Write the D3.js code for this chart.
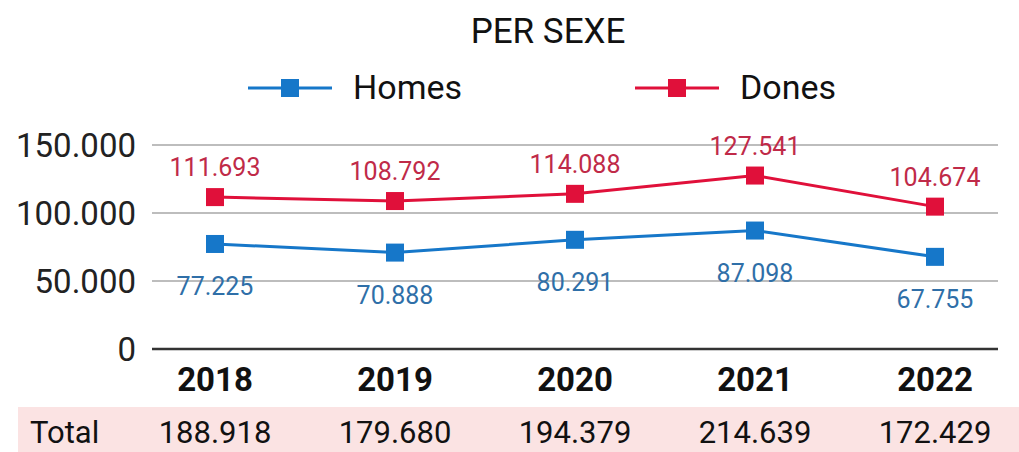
<!DOCTYPE html>
<html>
<head>
<meta charset="utf-8">
<script src="https://cdn.jsdelivr.net/npm/d3@7"></script>
<style>
  body { margin: 0; background: #fff; }
  text { font-family: Roboto, "Noto Sans", sans-serif; }
</style>
</head>
<body>
<div id="chart"></div>
<script>
// data
var years = ["2018", "2019", "2020", "2021", "2022"];
var homes = [77225, 70888, 80291, 87098, 67755];
var dones = [111693, 108792, 114088, 127541, 104674];
var totals = [188918, 179680, 194379, 214639, 172429];
var yTicks = [0, 50000, 100000, 150000];

var w = 1019, h = 452;
var plotLeft = 152, plotRight = 998, plotTop = 145, plotBottom = 349;

var fmt = function(v) {
  return d3.format(",")(v).replace(/,/g, ".");
};

var svg = d3.select("#chart").append("svg")
  .attr("width", w).attr("height", h);

var x = d3.scalePoint().domain(years).range([plotLeft, plotRight]).padding(0.35);
var y = d3.scaleLinear().domain([0, 150000]).range([plotBottom, plotTop]);

// title
svg.append("text")
  .attr("x", 548).attr("y", 43)
  .attr("text-anchor", "middle")
  .attr("font-size", 35).attr("fill", "#111")
  .text("PER SEXE");

var series = [
  { name: "Homes", values: homes, color: "#1677c9", label: "#2f6fa8", lx: 248, up: false },
  { name: "Dones", values: dones, color: "#e0103a", label: "#c02a48", lx: 635, up: true }
];

// legend
var legend = svg.append("g");
series.forEach(function(s) {
  var g = legend.append("g").attr("transform", "translate(" + s.lx + ",88)");
  g.append("line").attr("x1", 0).attr("x2", 84)
    .attr("stroke", s.color).attr("stroke-width", 3);
  g.append("rect").attr("x", 33).attr("y", -9).attr("width", 18).attr("height", 18)
    .attr("fill", s.color);
  g.append("text").attr("x", 105).attr("y", 11)
    .attr("font-size", 34).attr("fill", "#111").text(s.name);
});

// grid
svg.append("g").selectAll("line")
  .data(yTicks.filter(function(d) { return d > 0; }))
  .enter().append("line")
  .attr("x1", plotLeft).attr("x2", plotRight)
  .attr("y1", function(d) { return y(d); })
  .attr("y2", function(d) { return y(d); })
  .attr("stroke", "#bdbdbd").attr("stroke-width", 2);

svg.append("line")
  .attr("x1", plotLeft).attr("x2", plotRight)
  .attr("y1", y(0)).attr("y2", y(0))
  .attr("stroke", "#333").attr("stroke-width", 2.5);

// y axis labels
svg.append("g").selectAll("text")
  .data(yTicks).enter().append("text")
  .attr("x", 136).attr("y", function(d) { return y(d) + 12; })
  .attr("text-anchor", "end")
  .attr("font-size", 33).attr("fill", "#222")
  .text(function(d) { return fmt(d); });

// x axis labels
svg.append("g").selectAll("text")
  .data(years).enter().append("text")
  .attr("x", function(d) { return x(d); })
  .attr("y", 391)
  .attr("text-anchor", "middle")
  .attr("font-size", 33).attr("font-weight", "bold").attr("fill", "#111")
  .text(function(d) { return d; });

// lines
var line = d3.line()
  .x(function(d, i) { return x(years[i]); })
  .y(function(d) { return y(d); });

series.forEach(function(s) {
  var g = svg.append("g");
  g.append("path").datum(s.values)
    .attr("d", line).attr("fill", "none")
    .attr("stroke", s.color).attr("stroke-width", 3);
  g.selectAll("rect").data(s.values).enter().append("rect")
    .attr("x", function(d, i) { return x(years[i]) - 9; })
    .attr("y", function(d) { return y(d) - 9; })
    .attr("width", 18).attr("height", 18)
    .attr("fill", s.color);
  g.selectAll("text").data(s.values).enter().append("text")
    .attr("x", function(d, i) { return x(years[i]); })
    .attr("y", function(d) { return s.up ? y(d) - 21 : y(d) + 51; })
    .attr("text-anchor", "middle")
    .attr("font-size", 25).attr("fill", s.label)
    .text(function(d) { return fmt(d); });
});

// total row
svg.append("rect")
  .attr("x", 18).attr("y", 407).attr("width", w - 18).attr("height", 45)
  .attr("fill", "#fbe3e3");
svg.append("text")
  .attr("x", 30).attr("y", 443)
  .attr("font-size", 31).attr("fill", "#111")
  .text("Total");
svg.append("g").selectAll("text")
  .data(totals).enter().append("text")
  .attr("x", function(d, i) { return x(years[i]); })
  .attr("y", 443)
  .attr("text-anchor", "middle")
  .attr("font-size", 31).attr("fill", "#111")
  .text(function(d) { return fmt(d); });
</script>
</body>
</html>
